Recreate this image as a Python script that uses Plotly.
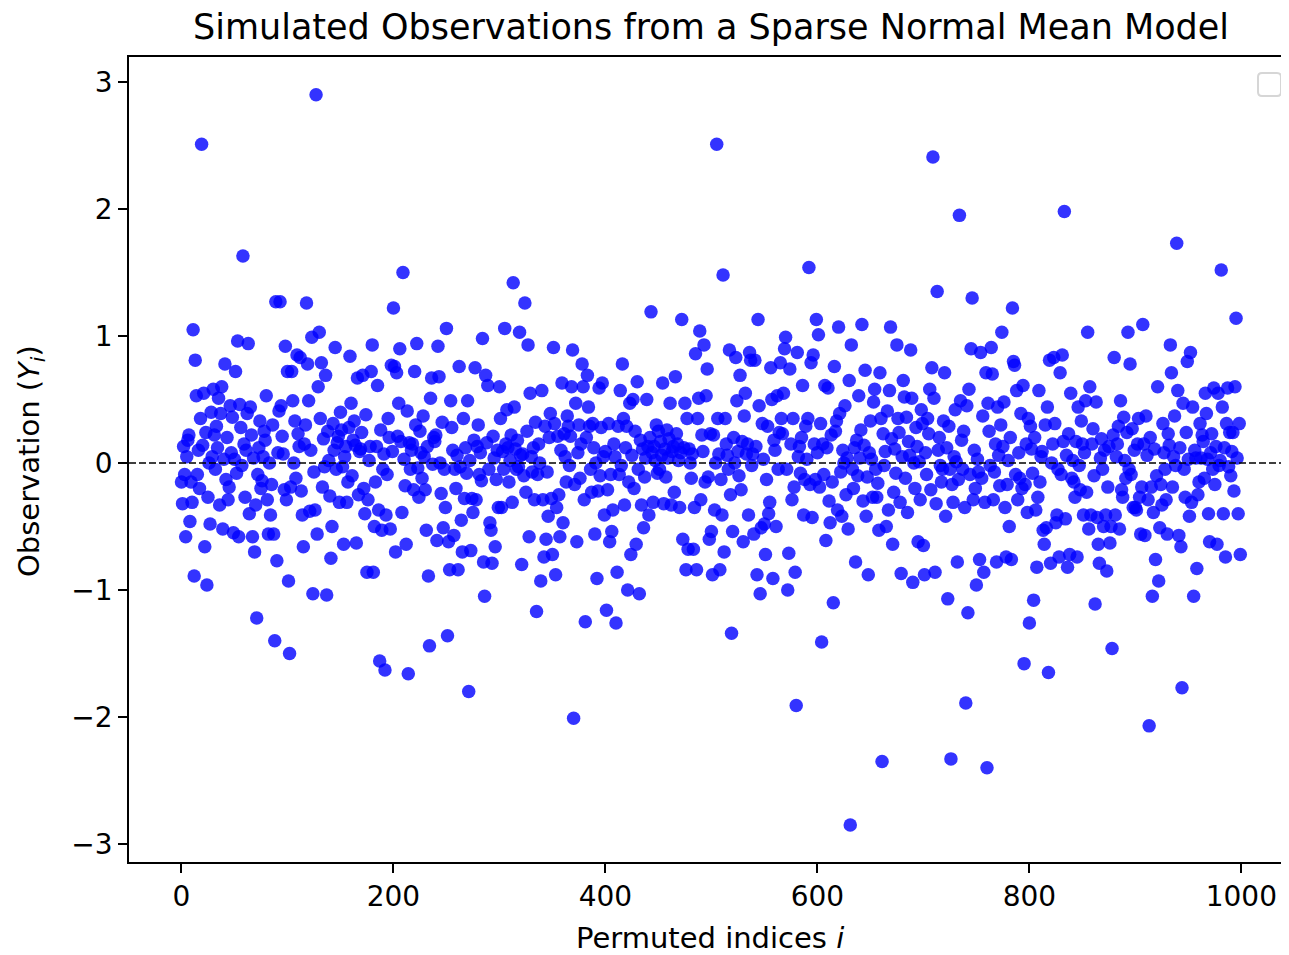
import plotly.graph_objects as go

# Observations Y_i, in blocks of 100 permuted indices
y_000 = [-0.15,-0.32,0.13,-0.09,-0.58,0.05,0.18,0.22,-0.46,-0.15,
         -0.31,1.05,-0.89,0.81,0.53,-0.09,0.10,-0.20,0.35,2.51,
         0.14,0.55,-0.66,0.24,-0.96,-0.27,0.00,-0.48,0.40,0.05,
         0.58,0.22,-0.05,0.29,0.12,0.51,-0.33,0.39,0.60,-0.52,
         0.03,0.78,-0.13,0.20,-0.29,-0.19,0.45,0.08,0.36,-0.55,
         0.03,0.72,-0.08,0.96,-0.58,0.46,0.28,-0.02,1.63,0.15,
         -0.27,0.10,0.39,0.94,-0.40,0.44,0.22,-0.58,0.04,-0.70,
         -0.33,-1.22,-0.09,0.12,0.33,-0.20,-0.14,0.05,0.25,0.18,
         0.53,-0.29,-0.56,0.00,-0.41,-0.17,0.30,-0.56,-1.40,1.27,
         -0.77,0.08,0.41,1.27,0.45,0.21,0.07,-0.21,0.92,-0.29]
y_100 = [0.72,-0.93,-1.50,-0.19,0.72,0.49,0.00,0.33,-0.12,0.85,
         0.23,0.13,0.83,-0.22,-0.41,-0.66,0.15,0.30,1.26,0.78,
         0.49,-0.38,0.10,0.99,-1.03,-0.07,-0.37,2.90,-0.56,0.60,
         1.03,0.35,0.79,-0.19,0.19,-0.03,0.69,-1.04,0.25,0.02,
         -0.26,-0.75,-0.50,0.31,0.10,0.91,-0.05,0.16,0.21,-0.31,
         0.40,0.26,-0.03,-0.64,0.05,0.13,-0.31,-0.15,0.28,0.84,
         0.47,-0.10,0.18,0.33,0.14,-0.63,0.67,-0.25,0.09,0.11,
         0.24,0.69,-0.20,-0.40,0.38,-0.86,-0.29,0.02,0.13,0.72,
         0.93,-0.86,-0.50,-0.15,0.13,0.61,-0.37,-1.56,0.26,-0.53,
         -0.05,0.07,-1.63,-0.41,-0.09,0.35,0.20,-0.52,0.77,0.09]
y_200 = [1.22,0.76,-0.70,0.71,0.21,0.47,0.90,0.17,-0.39,1.50,
         0.03,-0.18,-0.64,0.41,-1.66,0.16,-0.05,0.10,0.15,-0.21,
         0.72,0.30,0.94,-0.04,-0.27,0.25,0.08,-0.12,0.37,0.05,
         -0.21,-0.53,0.13,-0.89,-1.44,0.51,0.67,-0.01,0.20,0.17,
         0.22,-0.61,0.92,0.68,0.00,-0.24,0.32,-0.51,-0.05,-0.35,
         1.06,-1.36,-0.62,-0.84,0.49,0.28,0.10,-0.57,-0.05,-0.20,
         0.06,-0.84,0.76,-0.03,-0.45,-0.70,0.35,-0.28,0.12,-0.08,
         0.49,-1.80,0.02,-0.69,-0.28,-0.39,0.18,0.75,-0.29,0.13,
         0.30,-0.09,0.08,-0.14,0.98,-0.78,-1.05,0.69,0.16,0.61,
         -0.05,-0.47,-0.53,-0.79,0.21,0.04,-0.66,-0.13,0.10,-0.35]
y_300 = [0.60,0.35,-0.35,0.09,-0.05,1.06,0.15,0.42,0.12,-0.15,
         0.02,0.22,-0.31,1.42,0.44,0.11,-0.05,0.18,-0.03,1.03,
         0.06,-0.80,0.07,-0.10,1.26,-0.23,0.25,0.93,-0.58,0.55,
         0.05,-0.07,0.12,-0.29,0.32,-1.17,-0.09,0.15,0.00,-0.93,
         0.57,-0.29,-0.74,0.29,-0.60,-0.07,-0.42,0.20,0.39,-0.28,
         -0.72,0.91,0.31,-0.88,-0.35,0.21,-0.25,-0.58,0.10,0.63,
         -0.47,0.23,0.05,-0.15,0.37,0.29,-0.02,0.21,0.60,0.89,
         -2.01,-0.17,0.47,-0.62,0.08,0.30,-0.12,0.15,0.78,0.60,
         -0.29,-1.25,0.20,0.69,0.44,0.29,-0.05,-0.23,0.31,0.12,
         -0.56,0.00,-0.91,-0.22,0.59,-0.10,0.28,0.63,0.05,-0.41]
y_400 = [0.09,-1.16,-0.21,0.31,-0.62,-0.09,-0.54,-0.37,0.15,0.05,
         -1.26,-0.86,0.29,-0.09,0.57,-0.02,0.78,0.35,-0.33,0.12,
         0.29,-1.00,-0.15,0.47,-0.72,0.06,0.50,-0.20,0.25,-0.64,
         0.64,-0.05,-1.03,0.18,-0.33,0.11,-0.51,-0.11,0.04,0.50,
         0.13,-0.41,0.20,1.19,0.08,-0.31,0.13,0.02,0.30,-0.08,
         0.25,-0.05,0.17,0.06,0.63,-0.32,0.11,-0.11,0.26,0.04,
         0.19,0.47,-0.33,0.09,0.13,-0.23,0.68,0.23,0.15,0.02,
         -0.35,0.08,1.13,-0.60,0.12,0.47,-0.84,0.35,-0.68,0.11,
         0.00,-0.12,0.07,-0.68,-0.35,0.86,-0.84,0.35,0.51,1.04,
         -0.29,0.22,0.09,0.93,-0.15,0.53,0.74,-0.11,-0.60,0.23]
y_500 = [-0.54,-0.88,0.22,-0.37,0.00,2.51,0.35,0.07,-0.84,-0.13,
         -0.41,1.48,-0.70,0.35,0.15,0.06,-0.05,0.89,-0.25,-1.34,
         -0.54,0.20,0.00,0.83,0.49,0.09,-0.10,0.69,-0.21,0.17,
         -0.62,0.37,0.55,0.07,0.15,-0.41,0.87,0.81,-0.02,0.07,
         -0.56,0.81,0.13,-0.88,1.13,0.45,-1.03,-0.51,0.31,0.03,
         -0.48,-0.72,-0.13,0.29,-0.40,-0.31,0.75,0.50,-0.91,0.18,
         0.10,-0.50,0.53,-0.05,0.24,0.79,0.35,0.23,0.55,0.90,
         0.99,-0.05,-1.00,-0.71,0.74,0.15,-0.29,0.35,-0.19,-0.86,
         -1.91,0.87,0.05,0.13,-0.08,0.20,0.61,-0.41,-0.13,0.29,
         0.03,0.35,1.54,-0.17,0.79,-0.43,0.85,0.15,-0.13,1.13]
y_600 = [0.08,1.01,-0.19,0.31,-1.41,0.15,-0.09,0.61,-0.61,0.12,
         0.59,-0.30,-0.47,0.22,-0.15,-1.10,0.76,0.25,0.33,-0.37,
         1.07,0.39,-0.07,-0.42,0.10,0.00,0.45,-0.25,0.04,-0.52,
         0.65,-2.85,0.93,-0.05,-0.20,0.12,-0.78,0.18,-0.10,0.53,
         0.04,0.26,1.09,-0.30,0.14,0.73,-0.42,-0.11,-0.88,0.08,
         0.33,0.03,-0.27,0.48,0.58,-0.05,-0.27,-0.16,-0.53,0.71,
         0.35,-2.35,0.23,-0.02,0.09,-0.50,0.41,-0.37,0.57,1.07,
         0.19,-0.64,-0.23,0.11,-0.08,0.93,0.35,0.24,-0.31,-0.87,
         0.05,0.65,0.52,-0.12,0.36,-0.39,0.17,0.06,0.89,0.51,
         -0.94,0.00,-0.20,0.28,0.13,-0.62,0.01,-0.29,0.42,0.31]
y_700 = [-0.65,-0.88,0.08,-0.09,0.35,0.23,0.58,-0.21,0.75,2.41,
         0.51,-0.86,-0.32,1.35,0.10,0.20,-0.02,-0.15,-0.05,0.33,
         0.71,-0.42,0.12,-1.07,0.29,-0.05,-2.33,-0.17,-0.31,0.05,
         0.42,0.01,-0.78,-0.13,1.95,0.49,0.18,-0.05,0.25,-0.35,
         -1.89,0.45,-1.18,0.58,-0.09,0.90,1.30,-0.29,0.10,-0.20,
         -0.96,0.03,-0.07,-0.76,0.87,-0.12,0.37,-0.86,-0.31,0.71,
         -2.40,0.47,0.25,-0.02,0.91,0.70,-0.29,-0.07,0.15,-0.78,
         0.44,0.06,-0.18,0.30,1.03,0.13,0.48,-0.35,-0.74,-0.17,
         0.02,-0.50,0.20,-0.76,1.22,0.80,0.77,-0.09,0.57,-0.29,
         0.08,-0.12,0.39,-0.20,0.61,-1.58,-0.17,0.15,-0.39,0.35]
y_800 = [-1.26,0.29,0.11,-0.08,-1.08,0.20,-0.37,-0.82,-0.27,0.57,
         -0.15,0.05,0.09,-0.53,-0.64,0.30,-0.51,0.44,-1.65,0.81,
         -0.79,0.00,0.15,0.83,0.31,-0.47,-0.41,-0.05,-0.74,0.71,
         -0.09,0.85,0.17,1.98,-0.44,0.06,-0.82,0.23,-0.72,0.55,
         -0.12,0.02,-0.15,-0.27,0.17,-0.74,0.44,-0.02,-0.21,0.33,
         0.15,-0.41,0.08,0.49,-0.23,1.03,-0.52,0.60,-0.41,0.15,
         0.27,-0.10,-1.11,0.48,-0.43,-0.64,-0.79,0.04,0.19,-0.05,
         -0.50,0.10,-0.41,-0.85,-0.19,0.13,-0.63,-0.50,-1.46,0.22,
         0.83,-0.41,0.05,0.15,0.29,-0.52,0.49,-0.21,-0.27,0.36,
         0.02,-0.12,0.24,1.03,-0.05,0.78,-0.09,0.27,-0.35,0.10]
y_900 = [-0.35,-0.37,0.15,0.35,-0.27,-0.56,-0.19,1.09,0.15,-0.57,
         0.37,0.06,-0.29,-2.07,0.20,-0.19,-1.05,-0.39,0.11,-0.76,
         -0.10,0.60,-0.93,-0.51,-0.17,-0.33,0.31,0.08,-0.05,-0.29,
         -0.56,0.23,0.14,0.93,0.71,-0.19,0.05,0.37,-0.02,1.73,
         0.57,-0.57,0.12,-0.66,-1.77,0.47,-0.05,-0.27,0.24,0.80,
         0.03,-0.42,0.87,-0.31,0.44,-1.05,0.10,0.04,-0.83,-0.25,
         -0.15,0.31,0.04,0.22,0.17,-0.12,0.55,0.39,0.03,-0.40,
         -0.62,0.08,0.23,-0.05,0.59,-0.17,0.13,-0.64,0.55,-0.02,
         0.02,1.52,0.44,-0.40,0.12,-0.74,0.31,0.59,-0.03,0.24,
         -0.10,0.09,0.24,-0.22,0.60,1.14,0.04,-0.40,0.31,-0.72]

blocks = [(0, y_000), (100, y_100), (200, y_200), (300, y_300), (400, y_400),
          (500, y_500), (600, y_600), (700, y_700), (800, y_800), (900, y_900)]

x_ticks = [0, 200, 400, 600, 800, 1000]
y_ticks = [-3, -2, -1, 0, 1, 2, 3]

xs, ys = [], []
for start, vals in blocks:
    xs.extend(range(start, start + len(vals)))
    ys.extend(vals)

# The page body has an 8px default margin; work in page pixels and shift.
OFF = 8
W, H = 1289 - OFF, 955 - OFF
L, T, R, B = 129 - OFF, 57 - OFF, 1288 - OFF, 862 - OFF   # plot area (figure px)
FONT = "DejaVu Sans"

def px_x(p):   # page px -> paper x
    return (p - OFF - L) / (R - L)

def px_y(p):   # page px -> paper y
    return (B - (p - OFF)) / (B - T)

fig = go.Figure()
fig.add_trace(go.Scatter(
    x=xs, y=ys, mode="markers",
    marker=dict(color="rgba(0,0,255,0.8)", size=13.5, line=dict(width=0)),
    showlegend=False, hoverinfo="skip"))

# dashed zero reference line
fig.add_shape(type="line", xref="paper", yref="y", x0=0, x1=1, y0=0, y1=0,
              line=dict(color="black", width=1.6, dash="7px,3px"), layer="above")

# empty legend box (top right)
x0, x1 = px_x(1258), px_x(1281)
yt, yb = px_y(73), px_y(96)
rx, ry = 4 / (R - L), 4 / (B - T)
path = (f"M {x0+rx},{yt} L {x1-rx},{yt} Q {x1},{yt} {x1},{yt-ry} "
        f"L {x1},{yb+ry} Q {x1},{yb} {x1-rx},{yb} L {x0+rx},{yb} "
        f"Q {x0},{yb} {x0},{yb+ry} L {x0},{yt-ry} Q {x0},{yt} {x0+rx},{yt} Z")
fig.add_shape(type="path", xref="paper", yref="paper", path=path,
              line=dict(color="#d6d6d6", width=2), fillcolor="white", layer="above")

fig.add_annotation(text="Permuted indices <i>i</i>", xref="paper", yref="paper",
                   x=px_x(710), y=px_y(938), showarrow=False,
                   font=dict(family=FONT, size=29, color="black"),
                   xanchor="center", yanchor="middle")
fig.add_annotation(text="Observation (<i>Y</i><sub><i>i</i></sub>)", xref="paper", yref="paper",
                   x=px_x(31), y=px_y(461), showarrow=False, textangle=-90,
                   font=dict(family=FONT, size=29, color="black"),
                   xanchor="center", yanchor="middle")

fig.update_layout(
    width=W, height=H,
    margin=dict(l=L, r=W - R, t=T, b=H - B, pad=0),
    paper_bgcolor="white", plot_bgcolor="white",
    title=dict(text="Simulated Observations from a Sparse Normal Mean Model",
               x=px_x(711), xref="paper", xanchor="center",
               y=1 - (27 - OFF) / H, yref="container", yanchor="middle",
               font=dict(family=FONT, size=35, color="black")),
    font=dict(family=FONT, size=28, color="black"),
    xaxis=dict(range=[-49.5, 1044], tickvals=x_ticks, ticks="outside", ticklen=9,
               tickwidth=1.6, tickcolor="black", showline=True, linecolor="black",
               linewidth=1.6, mirror=True, showgrid=False, zeroline=False,
               tickfont=dict(family=FONT, size=28, color="black")),
    yaxis=dict(range=[-3.142, 3.197], tickvals=y_ticks, ticks="outside", ticklen=9,
               tickwidth=1.6, tickcolor="black", showline=True, linecolor="black",
               linewidth=1.6, mirror=False, showgrid=False, zeroline=False,
               tickfont=dict(family=FONT, size=28, color="black")),
)

fig.write_html("out.html")
